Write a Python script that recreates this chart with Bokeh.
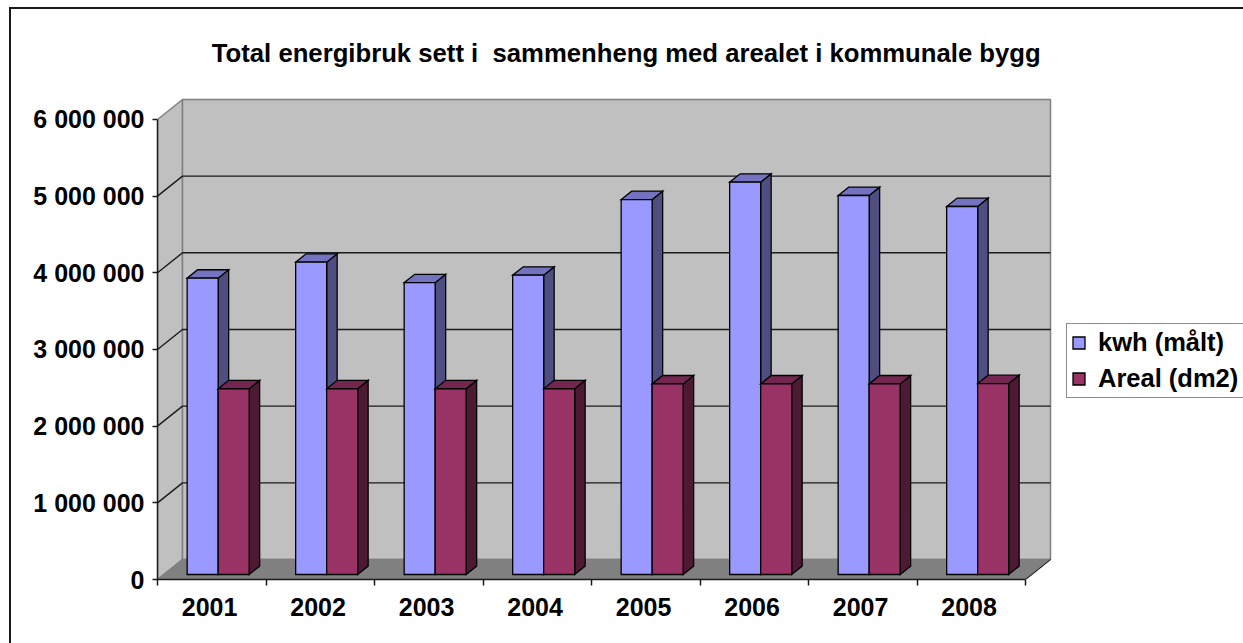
from bokeh.plotting import figure
from bokeh.embed import file_html
from bokeh.resources import INLINE
from bokeh.models import Range1d, LinearAxis, FixedTicker, Legend, LegendItem, Label

# ---- data ----
years = ["2001", "2002", "2003", "2004", "2005", "2006", "2007", "2008"]
kwh = [3865000, 4073000, 3806000, 3904000, 4890000, 5117000, 4943000, 4800000]
areal = [2423000, 2423000, 2423000, 2423000, 2486000, 2486000, 2486000, 2490000]
y_ticks = [0, 1000000, 2000000, 3000000, 4000000, 5000000, 6000000]
y_labels = ["0", "1 000 000", "2 000 000", "3 000 000", "4 000 000", "5 000 000", "6 000 000"]
title_text = "Total energibruk sett i \u00a0sammenheng med arealet i kommunale bygg"
series_names = ["kwh (målt)", "Areal (dm2)"]

# ---- projection of the chart's depth ----
PX_X = 108.5      # px per category
PX_Y = 76.67      # px per million
DEPTH_X = 25 / PX_X
DEPTH_Y = 20 / PX_Y * 1e6
GAP, BAR = 0.2157, 0.2857
D0, D1 = 0.25, 0.67
FONT = "Liberation Sans"
LINE = "#1a1a1a"
FRAME_W = 1086
FRAME_H = 570

def pr(x, y, d):
    return x + d * DEPTH_X, y + d * DEPTH_Y

p = figure(width=1232, height=634, output_backend="svg", toolbar_location=None,
           frame_width=FRAME_W, frame_height=FRAME_H,
           min_border_left=146, min_border_right=0, min_border_bottom=64, min_border_top=0,
           x_range=Range1d(0, FRAME_W / PX_X),
           y_range=Range1d(0, FRAME_H / PX_Y * 1e6),
           x_axis_type=None, y_axis_type=None,
           outline_line_color=None, background_fill_color=None, border_fill_color="white",
           styles={"margin": "7px 0 0 9px",
                   "border-top": f"2px solid {LINE}", "border-left": f"2px solid {LINE}"})
p.grid.visible = False

# title, placed by its baseline above the chart
p.add_layout(Label(x=54.3 / PX_X, y=(579 - 52) / PX_Y * 1e6, text=title_text,
                   text_font=FONT, text_font_size="25.7px", text_font_style="bold",
                   text_color="#000000", text_align="left", text_baseline="alphabetic"))

XMAX = 8
YMAX = y_ticks[-1]
# walls and floor
corners_back = [pr(0, 0, 1), pr(XMAX, 0, 1), pr(XMAX, YMAX, 1), pr(0, YMAX, 1)]
corners_side = [pr(0, 0, 0), pr(0, 0, 1), pr(0, YMAX, 1), pr(0, YMAX, 0)]
corners_floor = [pr(0, 0, 0), pr(XMAX, 0, 0), pr(XMAX, 0, 1), pr(0, 0, 1)]
for c, fill in ((corners_side, "#c0c0c0"), (corners_back, "#c0c0c0"), (corners_floor, "#808080")):
    p.patch([q[0] for q in c], [q[1] for q in c], fill_color=fill, line_color="#808080", line_width=1.5)

# gridlines on the side wall and the back wall
grid = [v for v in y_ticks if 0 < v < YMAX]
p.multi_line([[pr(0, v, 0)[0], pr(0, v, 1)[0], pr(XMAX, v, 1)[0]] for v in grid],
             [[pr(0, v, 0)[1], pr(0, v, 1)[1], pr(XMAX, v, 1)[1]] for v in grid],
             line_color=LINE, line_width=1.4)
# right floor edge
a, b = pr(XMAX, 0, 0), pr(XMAX, 0, 1)
p.line([a[0], b[0]], [a[1], b[1]], line_color=LINE, line_width=1)

# bars
def bars(values, offset, front, side, top):
    lefts = [i + GAP + offset * BAR for i in range(len(values))]
    sx, sy, tx, ty = [], [], [], []
    for x, v in zip(lefts, values):
        r = x + BAR
        q = [pr(r, 0, D0), pr(r, 0, D1), pr(r, v, D1), pr(r, v, D0)]
        sx.append([c[0] for c in q]); sy.append([c[1] for c in q])
        q = [pr(x, v, D0), pr(r, v, D0), pr(r, v, D1), pr(x, v, D1)]
        tx.append([c[0] for c in q]); ty.append([c[1] for c in q])
    kw = dict(line_color="#000000", line_width=1.3, line_join="miter")
    p.patches(sx, sy, fill_color=side, **kw)
    p.patches(tx, ty, fill_color=top, **kw)
    return p.quad(left=[pr(x, 0, D0)[0] for x in lefts],
                  right=[pr(x + BAR, 0, D0)[0] for x in lefts],
                  bottom=[pr(0, 0, D0)[1]] * len(values),
                  top=[pr(0, v, D0)[1] for v in values],
                  fill_color=front, **kw)

r1 = bars(kwh, 0, "#9999ff", "#4e4e80", "#7373bf")
r2 = bars(areal, 1, "#993366", "#4d1a33", "#732650")

# axes
yax = LinearAxis(ticker=FixedTicker(ticks=y_ticks), bounds=(0, YMAX),
                 major_label_overrides=dict(zip(y_ticks, y_labels)))
yax.major_label_text_font = FONT
yax.major_label_text_font_size = "25px"
yax.major_label_text_font_style = "bold"
yax.major_label_text_color = "#000000"
yax.major_label_standoff = 8
yax.major_tick_out = 5
yax.major_tick_in = 0
yax.minor_tick_line_color = None
yax.axis_line_color = LINE
yax.axis_line_width = 1.5
yax.major_tick_line_color = LINE
yax.major_tick_line_width = 1.5
p.add_layout(yax, "left")

tick_x = list(range(len(years) + 1))
xax = LinearAxis(ticker=FixedTicker(ticks=tick_x), bounds=(0, XMAX),
                 major_label_text_font_size="0px", major_label_text_color=None)
xax.major_tick_out = 6
xax.major_tick_in = 0
xax.minor_tick_line_color = None
xax.axis_line_color = LINE
xax.axis_line_width = 1.5
xax.major_tick_line_color = LINE
xax.major_tick_line_width = 1.5
p.add_layout(xax, "below")

label_x = [i + 0.48 for i in range(len(years))]
xlab = LinearAxis(ticker=FixedTicker(ticks=label_x), bounds=(0, XMAX),
                  major_label_overrides=dict(zip(label_x, years)))
xlab.major_label_text_font = FONT
xlab.major_label_text_font_size = "25px"
xlab.major_label_text_font_style = "bold"
xlab.major_label_text_color = "#000000"
xlab.major_label_standoff = 12
xlab.major_tick_out = 0
xlab.major_tick_in = 0
xlab.major_tick_line_color = None
xlab.minor_tick_line_color = None
xlab.axis_line_color = None
p.add_layout(xlab, "below")

# legend
leg = Legend(items=[LegendItem(label=series_names[0], renderers=[r1]),
                    LegendItem(label=series_names[1], renderers=[r2])],
             location=(909, 181), orientation="vertical",
             glyph_width=15, glyph_height=15, label_standoff=12, padding=4, margin=0, spacing=7,
             label_text_font=FONT, label_text_font_size="25.5px", label_text_font_style="bold",
             label_text_color="#000000", label_height=28, label_width=142,
             border_line_color=LINE, border_line_width=1.5, background_fill_color="white",
             background_fill_alpha=1)
p.add_layout(leg, "center")

open("out.html", "w").write(file_html(p, INLINE))
